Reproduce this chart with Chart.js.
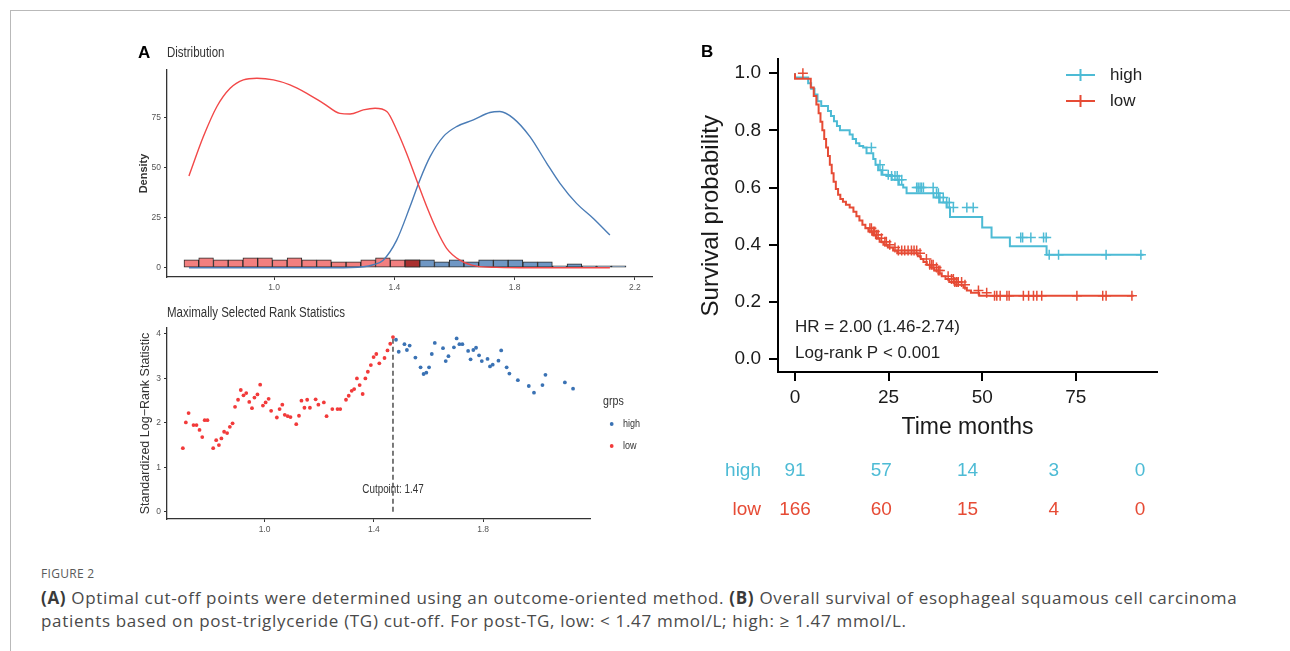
<!DOCTYPE html>
<html>
<head>
<meta charset="utf-8">
<script src="https://cdn.jsdelivr.net/npm/chart.js@4.4.1/dist/chart.umd.min.js"></script>
<style>
  body { margin: 0; width: 1290px; height: 651px; background: #fff; position: relative; overflow: hidden; }
  .frame { position: absolute; left: 10px; top: 10px; right: 0; bottom: 0; border-top: 1px solid #b9b9b9; border-left: 1px solid #b9b9b9; }
  canvas { position: absolute; }
  #distChart { left: 100px; top: 40px; }
  #statChart { left: 100px; top: 300px; }
  #kmChart { left: 690px; top: 40px; }
  #riskChart { left: 690px; top: 445px; }
  .caption { position: absolute; left: 41px; top: 565px; font-family: 'Open Sans', sans-serif; color: #4a4a4a; }
  .caption .fig { font-size: 12px; color: #5a5a5a; letter-spacing: 0.3px; line-height: 18px; }
  .caption p { margin: 3px 0 0 0; font-size: 17px; letter-spacing: 0.67px; line-height: 23px; white-space: nowrap; }
  .caption b { color: #3a3a3a; }
</style>
</head>
<body>
<div class="frame"></div>
<canvas id="distChart" width="560" height="260"></canvas>
<canvas id="statChart" width="560" height="245"></canvas>
<canvas id="kmChart" width="480" height="400"></canvas>
<canvas id="riskChart" width="480" height="90"></canvas>
<div class="caption">
  <div class="fig">FIGURE 2</div>
  <p><b>(A)</b> Optimal cut-off points were determined using an outcome-oriented method. <b>(B)</b> Overall survival of esophageal squamous cell carcinoma<br>patients based on post-triglyceride (TG) cut-off. For post-TG, low: &lt; 1.47 mmol/L; high: ≥ 1.47 mmol/L.</p>
</div>
<script>
const SANS = "'Liberation Sans', Arial, Helvetica, sans-serif";
const SQUEEZE = 0.82; // panel A text looks horizontally condensed

// Panel A top - histogram + density of post-TG
const binCenters = [0.725, 0.774, 0.823, 0.872, 0.921, 0.970, 1.019, 1.068, 1.117, 1.166,
                    1.215, 1.264, 1.313, 1.362, 1.411, 1.460, 1.509, 1.558, 1.607, 1.656,
                    1.705, 1.754, 1.803, 1.852, 1.901, 1.950, 1.999, 2.048, 2.097, 2.146];
const lowCounts  = [4, 5, 4, 4, 5, 5, 4, 5, 4, 4, 3, 3, 4, 5, 4, 4, 0, 0, 0, 0, 0, 0, 0, 0, 0, 0, 0, 0, 0, 0];
const highCounts = [0, 0, 0, 0, 0, 0, 0, 0, 0, 0, 0, 0, 0, 0, 0, 4, 4, 3, 4, 3, 4, 4, 4, 3, 3, 1, 2, 1, 1, 1];
const lowDensX = [0.717, 0.765, 0.810, 0.854, 0.898, 0.943, 0.998, 1.053, 1.109, 1.164, 1.219, 1.253, 1.297, 1.336,
                  1.375, 1.408, 1.441, 1.474, 1.508, 1.541, 1.574, 1.618, 1.674, 1.740, 1.850, 2.000, 2.117];
const lowDensY = [45.8, 65.4, 80.4, 89.5, 93.7, 94.5, 93.7, 91.2, 87.0, 82.0, 77.0, 76.7, 78.7, 79.5,
                  77.9, 68.7, 57.0, 43.8, 30.4, 18.8, 9.7, 3.8, 0.8, 0.2, 0, 0, 0];
const highDensX = [0.717, 1.000, 1.200, 1.297, 1.330, 1.363, 1.408, 1.452, 1.485, 1.519, 1.563, 1.607, 1.663,
                   1.718, 1.751, 1.796, 1.851, 1.907, 1.951, 2.006, 2.062, 2.117];
const highDensY = [0, 0, 0, 0.5, 1.5, 3.8, 13.8, 30.4, 43.8, 55.4, 65.4, 70.4, 73.7,
                   77.4, 77.9, 74.5, 65.4, 52.1, 42.1, 32.1, 24.6, 16.3];
const densXTicks = [1.0, 1.4, 1.8, 2.2];
const densYTicks = [0, 25, 50, 75];

// Panel A bottom - maximally selected rank statistics
const lowStatX = [0.701, 0.712, 0.722, 0.740, 0.751, 0.762, 0.772, 0.781, 0.791, 0.812, 0.823, 0.833, 0.842, 0.852,
                  0.863, 0.873, 0.883, 0.892, 0.903, 0.913, 0.923, 0.933, 0.944, 0.954, 0.963, 0.974, 0.984, 0.994,
                  1.004, 1.015, 1.024, 1.045, 1.055, 1.065, 1.074, 1.085, 1.095, 1.116, 1.126, 1.135, 1.146, 1.156,
                  1.166, 1.187, 1.197, 1.217, 1.227, 1.248, 1.267, 1.277, 1.298, 1.308, 1.319, 1.328, 1.338, 1.348,
                  1.359, 1.369, 1.378, 1.389, 1.399, 1.409, 1.420, 1.439, 1.450, 1.460, 1.470];
const lowStatY = [1.43, 2.01, 2.22, 1.95, 1.95, 1.84, 1.68, 2.06, 2.06, 1.43, 1.61, 1.50, 1.65, 1.80,
                  1.77, 1.91, 1.99, 2.36, 2.52, 2.74, 2.62, 2.67, 2.47, 2.33, 2.57, 2.64, 2.86, 2.39,
                  2.46, 2.54, 2.27, 2.12, 2.31, 2.41, 2.18, 2.15, 2.13, 1.97, 2.16, 2.50, 2.34, 2.52,
                  2.34, 2.53, 2.41, 2.46, 2.15, 2.31, 2.31, 2.31, 2.52, 2.61, 2.72, 2.76, 3.00, 2.85,
                  2.65, 3.00, 3.15, 3.30, 3.48, 3.55, 3.34, 3.46, 3.63, 3.78, 3.93];
const highStatX = [1.481, 1.491, 1.512, 1.521, 1.531, 1.552, 1.571, 1.582, 1.592, 1.602, 1.612, 1.623, 1.653,
                   1.663, 1.673, 1.693, 1.703, 1.713, 1.724, 1.745, 1.754, 1.764, 1.774, 1.785, 1.795, 1.816,
                   1.825, 1.835, 1.856, 1.866, 1.886, 1.896, 1.927, 1.967, 1.986, 2.017, 2.028, 2.099, 2.129];
const highStatY = [3.87, 3.60, 3.77, 3.64, 3.74, 3.47, 3.25, 3.10, 3.13, 3.25, 3.55, 3.80, 3.68,
                   3.39, 3.50, 3.70, 3.90, 3.77, 3.77, 3.62, 3.43, 3.64, 3.69, 3.52, 3.39, 3.44,
                   3.27, 3.31, 3.40, 3.63, 3.25, 3.11, 2.96, 2.83, 2.68, 2.85, 3.08, 2.91, 2.77];
const cutpoint = 1.47;
const statXTicks = [1.0, 1.4, 1.8];
const statYTicks = [0, 1, 2, 3, 4];

// Panel B - Kaplan-Meier
const groups = ['high', 'low'];
const groupColors = ['#4DBBD5', '#E64B35'];
const highTime = [0, 3.5, 4.3, 5.2, 6.0, 7.0, 8.8, 9.6, 10.4, 11.2, 12.0, 14.6, 15.4, 16.3, 17.2, 18.2, 19.1, 20.9,
                  21.5, 22.2, 23.1, 24.4, 25.8, 27.6, 28.9, 29.8, 37.0, 38.5, 40.5, 41.4, 50.0, 52.5, 57.4, 67.2, 67.8, 93.1];
const highSurv = [1.0, 0.985, 0.965, 0.945, 0.925, 0.902, 0.885, 0.868, 0.85, 0.832, 0.815, 0.80, 0.785, 0.77, 0.755, 0.745, 0.74, 0.72,
                  0.70, 0.68, 0.66, 0.645, 0.64, 0.627, 0.61, 0.60, 0.58, 0.565, 0.548, 0.53, 0.497, 0.46, 0.425, 0.395, 0.365, 0.365];
const lowTime = [0, 4.2, 5.0, 5.7, 6.3, 6.8, 7.3, 7.8, 8.3, 8.8, 9.3, 9.8, 10.3, 10.9, 11.5, 12.1, 12.8, 13.6, 14.6, 15.6,
                 16.4, 17.2, 18.0, 18.8, 19.6, 20.6, 21.6, 22.6, 23.6, 24.8, 26.2, 27.3, 32.8, 33.6, 34.3, 35.2, 36.0, 37.2,
                 38.3, 39.2, 40.2, 41.2, 42.6, 45.0, 45.9, 47.0, 49.2, 52.5, 90.5];
const lowSurv = [1.0, 0.98, 0.95, 0.92, 0.89, 0.86, 0.83, 0.80, 0.77, 0.74, 0.71, 0.68, 0.65, 0.62, 0.595, 0.575, 0.56, 0.55, 0.54, 0.53,
                 0.515, 0.50, 0.485, 0.47, 0.458, 0.446, 0.435, 0.423, 0.41, 0.40, 0.39, 0.38, 0.37, 0.36, 0.35, 0.34, 0.33, 0.32,
                 0.31, 0.30, 0.29, 0.28, 0.27, 0.26, 0.25, 0.24, 0.232, 0.222, 0.222];
const highCensor = [20.4, 22.7, 23.4, 24.9, 25.8, 26.7, 27.3, 27.8, 28.5, 32.5, 32.9, 33.4, 33.8, 34.3, 36.9, 37.8, 38.3,
                    38.7, 39.6, 40.5, 41.2, 42.3, 45.9, 47.6, 60.3, 60.8, 63.0, 66.4, 67.1, 67.9, 70.4, 83.1, 92.4];
const lowCensor = [2.1, 20.0, 20.4, 20.9, 21.3, 21.8, 22.2, 23.1, 24.0, 24.4, 25.3, 26.7, 27.6, 28.5, 29.3, 30.2, 31.1,
                   31.8, 32.5, 33.4, 35.1, 36.0, 36.5, 36.9, 37.8, 38.3, 38.7, 40.9, 41.8, 42.3, 42.7, 43.2, 43.6, 44.5,
                   45.4, 49.0, 51.2, 53.3, 53.9, 54.8, 56.6, 57.2, 61.0, 62.4, 63.7, 64.6, 65.9, 75.3, 82.2, 83.1, 90.0];
const kmXTicks = [0, 25, 50, 75];
const kmYTicks = [0, 0.2, 0.4, 0.6, 0.8, 1.0];
const hrText = ['HR = 2.00 (1.46-2.74)', 'Log-rank P < 0.001'];

// Number at risk
const riskTimes = [0, 25, 50, 75, 100];
const riskHigh = [91, 57, 14, 3, 0];
const riskLow = [166, 60, 15, 4, 0];

Chart.defaults.animation = false;
Chart.defaults.responsive = false;
Chart.defaults.plugins.legend.display = false;
Chart.defaults.plugins.tooltip.enabled = false;
Chart.defaults.font.family = SANS;

// sx squeezes the text horizontally (1 = normal)
function drawText(ctx, str, x, y, font, color, align, rot, sx) {
    ctx.save();
    ctx.translate(x, y);
    if (rot) ctx.rotate(rot);
    if (sx) ctx.scale(sx, 1);
    ctx.font = font;
    ctx.fillStyle = color;
    ctx.textAlign = align || 'left';
    ctx.textBaseline = 'middle';
    ctx.fillText(str, 0, 0);
    ctx.restore();
}

function toPoints(xs, ys) {
    return xs.map((x, i) => ({ x: x, y: ys[i] }));
}

// survival value at a time, from the step data
function survAt(times, surv, t) {
    let s = surv[0];
    for (let i = 0; i < times.length; i++) {
        if (times[i] <= t) s = surv[i];
    }
    return s;
}

// ggplot-like thin grey axis
function ggAxis(min, max, tickValues, size, isX) {
    return {
        type: 'linear', min: min, max: max, offset: false,
        grid: { display: true, drawOnChartArea: false, tickLength: 3, color: '#333', lineWidth: 1, offset: false },
        border: { display: true, color: '#333', width: 1.3 },
        ticks: {
            font: { family: SANS, size: 8.5 }, color: '#555', padding: 3,
            callback: v => isX ? v.toFixed(1) : String(v)
        },
        afterBuildTicks: s => { s.ticks = tickValues.map(v => ({ value: v })); },
        afterFit: s => { if (isX) s.height = size; else s.width = size; }
    };
}

// ---------- Panel A: distribution ----------
new Chart(document.getElementById('distChart'), {
    type: 'bar',
    data: {
        datasets: [
            {
                type: 'line', data: toPoints(lowDensX, lowDensY), borderColor: '#F24848', borderWidth: 1.4,
                pointRadius: 0, cubicInterpolationMode: 'monotone'
            },
            {
                type: 'line', data: toPoints(highDensX, highDensY), borderColor: '#4A7CB6', borderWidth: 1.4,
                pointRadius: 0, cubicInterpolationMode: 'monotone'
            },
            {
                data: binCenters.map((x, i) => ({ x: x, y: lowCounts[i] || null })),
                backgroundColor: c => highCounts[c.dataIndex] > 0 ? '#A9302F' : '#F27F7F',
                borderColor: '#2b2b2b', borderWidth: 1, borderSkipped: false,
                barPercentage: 1, categoryPercentage: 1, grouped: false
            },
            {
                data: binCenters.map((x, i) => ({ x: x, y: highCounts[i] || null })),
                backgroundColor: '#6F97C4',
                borderColor: '#2b2b2b', borderWidth: 1, borderSkipped: false,
                barPercentage: 1, categoryPercentage: 1, grouped: false
            }
        ]
    },
    options: {
        layout: { padding: { top: 30, right: 8, left: 0, bottom: 0 } },
        scales: {
            x: ggAxis(0.644, 2.257, densXTicks, 23, true),
            y: ggAxis(-4.6, 98.6, densYTicks, 67, false)
        }
    },
    plugins: [{
        id: 'distText',
        afterDraw(chart) {
            const ctx = chart.ctx, a = chart.chartArea;
            drawText(ctx, 'A', 38, 13, 'bold 17px ' + SANS, '#000');
            drawText(ctx, 'Distribution', a.left, 13, '14px ' + SANS, '#333', 'left', 0, SQUEEZE);
            drawText(ctx, 'Density', 44, (a.top + a.bottom) / 2, 'bold 11px ' + SANS, '#333', 'center', -Math.PI / 2);
        }
    }]
});

// ---------- Panel A: maximally selected rank statistics ----------
const statMax = Math.max(...lowStatY, ...highStatY);
new Chart(document.getElementById('statChart'), {
    type: 'scatter',
    data: {
        datasets: [
            { data: toPoints(lowStatX, lowStatY), backgroundColor: '#F23A3A', pointRadius: 1.9, borderWidth: 0 },
            { data: toPoints(highStatX, highStatY), backgroundColor: '#3A72B4', pointRadius: 1.9, borderWidth: 0 },
            {
                data: [{ x: cutpoint, y: 0 }, { x: cutpoint, y: statMax }], showLine: true,
                borderColor: '#333', borderWidth: 1.3, borderDash: [5, 3], pointRadius: 0
            }
        ]
    },
    options: {
        layout: { padding: { top: 28, right: 70, left: 0, bottom: 0 } },
        scales: {
            x: ggAxis(0.643, 2.191, statXTicks, 26, true),
            y: ggAxis(-0.164, 4.135, statYTicks, 67, false)
        }
    },
    plugins: [{
        id: 'statText',
        afterDraw(chart) {
            const ctx = chart.ctx, a = chart.chartArea;
            const xs = chart.scales.x, ys = chart.scales.y;
            drawText(ctx, 'Maximally Selected Rank Statistics', a.left, 13, '14px ' + SANS, '#333', 'left', 0, SQUEEZE);
            drawText(ctx, 'Standardized Log\u2212Rank Statistic', 46, (a.top + a.bottom) / 2, '12.5px ' + SANS, '#333', 'center', -Math.PI / 2);
            drawText(ctx, 'Cutpoint: ' + cutpoint.toFixed(2), xs.getPixelForValue(cutpoint), ys.getPixelForValue(0.5), '12px ' + SANS, '#333', 'center', 0, SQUEEZE);
            // legend
            drawText(ctx, 'grps', 503, 101, '13px ' + SANS, '#333', 'left', 0, SQUEEZE);
            const cols = ['#3A72B4', '#F23A3A'];
            groups.forEach((g, i) => {
                const y = 124 + i * 22;
                ctx.beginPath();
                ctx.arc(511.7, y, 1.9, 0, Math.PI * 2);
                ctx.fillStyle = cols[i];
                ctx.fill();
                drawText(ctx, g, 523, y, '11px ' + SANS, '#333', 'left', 0, SQUEEZE);
            });
        }
    }]
});

// ---------- Panel B: Kaplan-Meier ----------
const kmAxis = (min, max, tickValues, size, isX) => ({
    type: 'linear', min: min, max: max,
    grid: { display: true, drawOnChartArea: false, tickLength: 9, color: '#000', lineWidth: 2 },
    border: { display: true, color: '#000', width: 2 },
    ticks: {
        font: { family: SANS, size: 19 }, color: '#1a1a1a', padding: isX ? 5 : 8,
        callback: v => isX ? String(v) : v.toFixed(1)
    },
    afterBuildTicks: s => { s.ticks = tickValues.map(v => ({ value: v })); },
    afterFit: s => { if (isX) s.height = size; else s.width = size; }
});

new Chart(document.getElementById('kmChart'), {
    type: 'scatter',
    data: {
        datasets: [
            {
                data: lowCensor.map(t => ({ x: t, y: survAt(lowTime, lowSurv, t) })),
                pointStyle: 'cross', pointRadius: 5, borderColor: groupColors[1], borderWidth: 1.5
            },
            {
                data: highCensor.map(t => ({ x: t, y: survAt(highTime, highSurv, t) })),
                pointStyle: 'cross', pointRadius: 5, borderColor: groupColors[0], borderWidth: 1.5
            },
            {
                data: toPoints(lowTime, lowSurv), showLine: true, stepped: 'after',
                borderColor: groupColors[1], borderWidth: 2, pointRadius: 0
            },
            {
                data: toPoints(highTime, highSurv), showLine: true, stepped: 'after',
                borderColor: groupColors[0], borderWidth: 2, pointRadius: 0
            }
        ]
    },
    options: {
        layout: { padding: { top: 12, right: 13, left: 0, bottom: 0 } },
        scales: {
            x: kmAxis(-4.55, 96.7, kmXTicks, 68, true),
            y: kmAxis(-0.045, 1.048, kmYTicks, 88, false)
        }
    },
    plugins: [{
        id: 'kmText',
        afterDraw(chart) {
            const ctx = chart.ctx, a = chart.chartArea;
            const xs = chart.scales.x, ys = chart.scales.y;
            drawText(ctx, 'B', 11, 12, 'bold 17px ' + SANS, '#000');
            drawText(ctx, 'Survival probability', 21, (a.top + a.bottom) / 2, '24px ' + SANS, '#1a1a1a', 'center', -Math.PI / 2);
            drawText(ctx, 'Time months', (a.left + a.right) / 2, 388, '23px ' + SANS, '#1a1a1a', 'center');
            drawText(ctx, hrText[0], xs.getPixelForValue(0), ys.getPixelForValue(0.11), '17px ' + SANS, '#222');
            drawText(ctx, hrText[1], xs.getPixelForValue(0), ys.getPixelForValue(0.02), '17px ' + SANS, '#222');
            // legend
            groups.forEach((g, i) => {
                const y = 35 + i * 26;
                ctx.strokeStyle = groupColors[i];
                ctx.lineWidth = 2;
                ctx.beginPath();
                ctx.moveTo(376, y); ctx.lineTo(405, y);
                ctx.moveTo(390.5, y - 6); ctx.lineTo(390.5, y + 6);
                ctx.stroke();
                drawText(ctx, g, 420, y, '17px ' + SANS, '#222');
            });
        }
    }]
});

// ---------- number at risk ----------
new Chart(document.getElementById('riskChart'), {
    type: 'scatter',
    data: {
        datasets: [
            { label: 'high', data: riskTimes.map(t => ({ x: t, y: 1 })), pointRadius: 0 },
            { label: 'low', data: riskTimes.map(t => ({ x: t, y: 0 })), pointRadius: 0 }
        ]
    },
    options: {
        layout: { padding: { top: 26, right: 30, left: 105, bottom: 25 } },
        scales: {
            x: { type: 'linear', display: false, min: 0, max: 100 },
            y: { type: 'linear', display: false, min: 0, max: 1 }
        }
    },
    plugins: [{
        id: 'riskText',
        afterDraw(chart) {
            const ctx = chart.ctx, a = chart.chartArea;
            const counts = [riskHigh, riskLow];
            groups.forEach((g, i) => {
                const pts = chart.getDatasetMeta(i).data;
                drawText(ctx, g, a.left - 34, pts[0].y, '19px ' + SANS, groupColors[i], 'right');
                pts.forEach((p, j) => {
                    drawText(ctx, String(counts[i][j]), p.x, p.y, '19px ' + SANS, groupColors[i], 'center');
                });
            });
        }
    }]
});
</script>
</body>
</html>
